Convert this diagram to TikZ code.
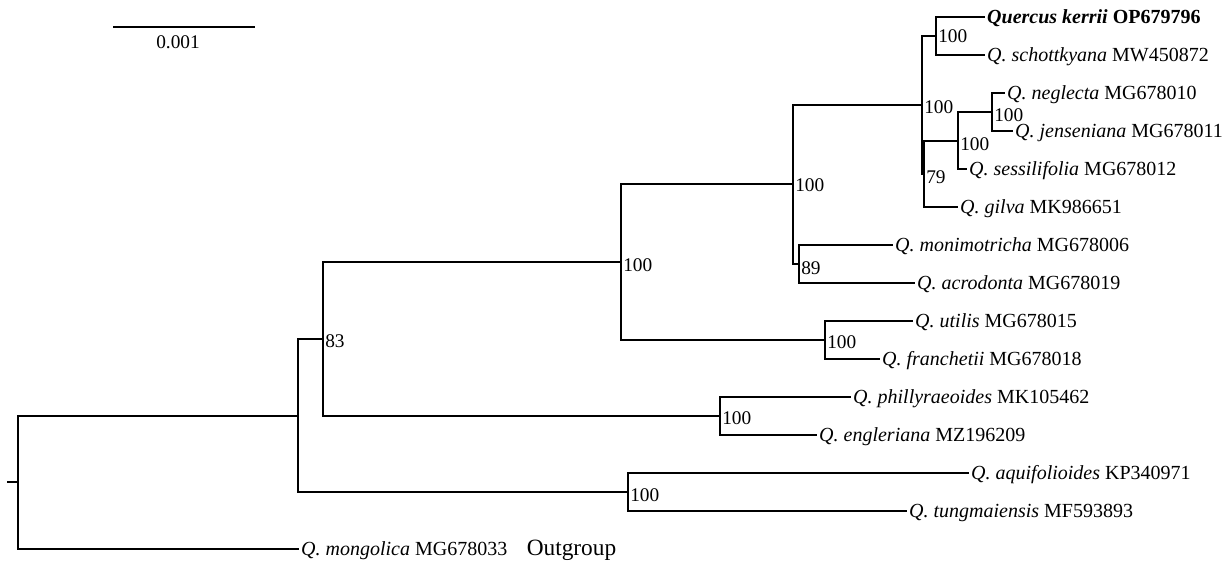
\documentclass[tikz,border=0pt]{standalone}
\usepackage{fontspec}
\setmainfont{Liberation Serif}
\begin{document}
\begin{tikzpicture}[x=0.75pt,y=-0.75pt,
  br/.style={line width=1.5pt, line cap=rect},
  leaf/.style={anchor=west, inner xsep=2.4pt, inner ysep=0pt, outer sep=0pt,
    text height=11pt, text depth=1pt, font=\fontsize{15}{18}\selectfont},
  boot/.style={anchor=west, inner sep=0pt, font=\fontsize{14.5}{16}\selectfont},
  outg/.style={anchor=base west, inner sep=0pt, font=\fontsize{17.5}{20}\selectfont}]
\useasboundingbox (0,0) rectangle (1226,560);
% leaves
\node[leaf] (kerrii) at (984,17) {\textbf{\textit{Quercus kerrii}} \textbf{OP679796}};
\node[leaf] (schott) at (984,55) {\textit{Q. schottkyana} MW450872};
\node[leaf] (negl) at (1004,93) {\textit{Q. neglecta} MG678010};
\node[leaf] (jens) at (1012,131) {\textit{Q. jenseniana} MG678011};
\node[leaf] (sess) at (966,169) {\textit{Q. sessilifolia} MG678012};
\node[leaf] (gilva) at (957,207) {\textit{Q. gilva} MK986651};
\node[leaf] (moni) at (892,245) {\textit{Q. monimotricha} MG678006};
\node[leaf] (acro) at (914,283) {\textit{Q. acrodonta} MG678019};
\node[leaf] (util) at (912,321) {\textit{Q. utilis} MG678015};
\node[leaf] (fran) at (879,359) {\textit{Q. franchetii} MG678018};
\node[leaf] (phil) at (850,397) {\textit{Q. phillyraeoides} MK105462};
\node[leaf] (engl) at (816,435) {\textit{Q. engleriana} MZ196209};
\node[leaf] (aqui) at (968,473) {\textit{Q. aquifolioides} KP340971};
\node[leaf] (tung) at (906,511) {\textit{Q. tungmaiensis} MF593893};
\node[leaf] (mong) at (298,549) {\textit{Q. mongolica} MG678033};
\node[outg] (og) at ([xshift=12pt]mong.base east) {Outgroup};
% internal nodes
\coordinate (A) at (936,36);
\coordinate (C) at (992,112);
\coordinate (B) at (958,140.5);
\coordinate (N79) at (924,173.75);
\coordinate (P) at (922,104.9);
\coordinate (N89) at (799,264);
\coordinate (Q) at (793,184.4);
\coordinate (U) at (825,340);
\coordinate (R) at (621,262.2);
\coordinate (Ph) at (720,416);
\coordinate (N83) at (323,339.1);
\coordinate (Aq) at (628,492);
\coordinate (N298) at (298,415.6);
\coordinate (root) at (18,482.3);
\coordinate (stub) at (8,482.3);
% branches
\draw[br] (stub) -- (root);
\draw[br] (root) |- (N298);
\draw[br] (root) |- (mong);
\draw[br] (N298) |- (N83);
\draw[br] (N298) |- (Aq);
\draw[br] (N83) |- (R);
\draw[br] (N83) |- (Ph);
\draw[br] (R) |- (Q);
\draw[br] (R) |- (U);
\draw[br] (Q) |- (P);
\draw[br] (Q) |- (N89);
\draw[br] (P) |- (A);
\draw[br] (P) |- (N79);
\draw[br] (A) |- (kerrii);
\draw[br] (A) |- (schott);
\draw[br] (N79) |- (B);
\draw[br] (N79) |- (gilva);
\draw[br] (B) |- (C);
\draw[br] (B) |- (sess);
\draw[br] (C) |- (negl);
\draw[br] (C) |- (jens);
\draw[br] (N89) |- (moni);
\draw[br] (N89) |- (acro);
\draw[br] (U) |- (util);
\draw[br] (U) |- (fran);
\draw[br] (Ph) |- (phil);
\draw[br] (Ph) |- (engl);
\draw[br] (Aq) |- (aqui);
\draw[br] (Aq) |- (tung);
% bootstrap values
\node[boot] (bA) at ([shift={(2,0)}]A) {100};
\node[boot] (bC) at ([shift={(2,3)}]C) {100};
\node[boot] (bB) at ([shift={(2,4)}]B) {100};
\node[boot] (b79) at ([shift={(2,3)}]N79) {79};
\node[boot] (bP) at ([shift={(2,2)}]P) {100};
\node[boot] (b89) at ([shift={(2,4)}]N89) {89};
\node[boot] (bQ) at ([shift={(2,1)}]Q) {100};
\node[boot] (bU) at ([shift={(2,2)}]U) {100};
\node[boot] (bR) at ([shift={(2,3)}]R) {100};
\node[boot] (bPh) at ([shift={(2,2)}]Ph) {100};
\node[boot] (b83) at ([shift={(2,2)}]N83) {83};
\node[boot] (bAq) at ([shift={(2,3)}]Aq) {100};
% scale bar
\coordinate (sb1) at (113,27);
\coordinate (sb2) at (255,27);
\draw[br, line cap=butt] (sb1) -- (sb2);
\node[font=\fontsize{14.5}{16}\selectfont, inner sep=0pt] (sbl) at (178,42) {0.001};
\end{tikzpicture}
\end{document}
